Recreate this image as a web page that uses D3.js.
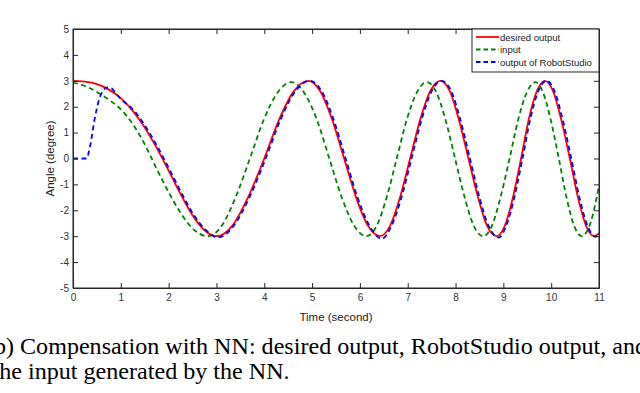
<!DOCTYPE html>
<html lang="en">
<head>
    <title>Compensation with NN</title>
    <meta charset="utf-8">
    <script src="https://d3js.org/d3.v7.min.js"></script>
    <style>
        body { margin: 0; background: #fff; }
        svg { display: block; }
        .tick text { font-family: 'Liberation Sans', Arial, sans-serif; font-size: 10px; fill: #333; }
    </style>
</head>
<body>
<div id="chart"></div>
<script>
    // values
    var timeDesired = [0, 0.25, 0.5, 0.75, 1.0, 1.25, 1.5, 1.75, 2.0, 2.25, 2.5, 2.75, 3.0,
        3.33, 3.66, 4.0, 4.31, 4.62, 4.92,
        5.17, 5.42, 5.67, 5.92, 6.17, 6.42,
        6.63, 6.84, 7.05, 7.26, 7.47, 7.68,
        7.88, 8.07, 8.27, 8.47, 8.66, 8.86,
        9.03, 9.2, 9.37, 9.53, 9.7, 9.87,
        10.04, 10.21, 10.39, 10.56, 10.73, 10.9,
        11.0];
    var desired = [3, 2.97, 2.87, 2.66, 2.33, 1.84, 1.2, 0.41, -0.47, -1.37, -2.19, -2.77, -3,
        -2.6, -1.5, 0, 1.5, 2.6, 3,
        2.6, 1.5, 0, -1.5, -2.6, -3,
        -2.6, -1.5, 0, 1.5, 2.6, 3,
        2.6, 1.5, 0, -1.5, -2.6, -3,
        -2.6, -1.5, 0, 1.5, 2.6, 3,
        2.6, 1.5, 0, -1.5, -2.6, -3,
        -2.88];

    var timeInput = [0, 0.25, 0.5, 0.75, 1.0, 1.25, 1.5, 1.75, 2.0, 2.25, 2.5, 2.82,
        3.11, 3.4, 3.7, 3.99, 4.28, 4.57,
        4.83, 5.1, 5.36, 5.62, 5.88, 6.14,
        6.35, 6.56, 6.77, 6.98, 7.19, 7.4,
        7.6, 7.79, 7.99, 8.19, 8.38, 8.58,
        8.76, 8.94, 9.13, 9.31, 9.49, 9.67,
        9.83, 9.99, 10.16, 10.32, 10.48, 10.64,
        10.82, 11.0];
    var input = [2.93, 2.8, 2.57, 2.27, 1.9, 1.33, 0.55, -0.4, -1.3, -2.1, -2.7, -3,
        -2.6, -1.5, 0, 1.5, 2.55, 2.95,
        2.55, 1.5, 0, -1.5, -2.6, -3,
        -2.6, -1.5, 0, 1.5, 2.55, 2.95,
        2.55, 1.5, 0, -1.5, -2.6, -3,
        -2.6, -1.5, 0, 1.5, 2.55, 2.95,
        2.55, 1.5, 0, -1.5, -2.6, -3,
        -2.5, -1.05];

    var timeOutput = [0, 0.28, 0.36, 0.45, 0.55, 0.63, 0.72, 0.8, 0.9, 1.0,
        1.28, 1.53, 1.78, 2.03, 2.28, 2.53, 2.78, 3.03,
        3.36, 3.69, 4.03, 4.34, 4.65, 4.95,
        5.2, 5.45, 5.7, 5.95, 6.2, 6.46,
        6.66, 6.87, 7.08, 7.29, 7.5, 7.71,
        7.91, 8.1, 8.3, 8.5, 8.69, 8.9,
        9.06, 9.23, 9.4, 9.56, 9.73, 9.9,
        10.07, 10.24, 10.42, 10.59, 10.76, 10.93,
        11.0];
    var output = [0, 0, 0.5, 1.5, 2.3, 2.62, 2.75, 2.72, 2.5, 2.3,
        1.84, 1.2, 0.41, -0.47, -1.37, -2.19, -2.77, -3.05,
        -2.6, -1.5, 0, 1.5, 2.6, 3,
        2.6, 1.5, 0, -1.5, -2.6, -3.1,
        -2.6, -1.5, 0, 1.5, 2.6, 3,
        2.6, 1.5, 0, -1.5, -2.6, -3.05,
        -2.6, -1.5, 0, 1.5, 2.6, 3,
        2.6, 1.5, 0, -1.5, -2.6, -3.02,
        -2.95];

    var xTicks = [0, 1, 2, 3, 4, 5, 6, 7, 8, 9, 10, 11];
    var yTicks = [-5, -4, -3, -2, -1, 0, 1, 2, 3, 4, 5];
    var legendLabels = ["desired output", "input", "output of RobotStudio"];

    var W = 640, H = 393;
    var pLeft = 73, pRight = 599, pTop = 29, pBottom = 288;
    var axisColor = "#262626";

    var svg = d3.select("#chart").append("svg")
        .attr("width", W).attr("height", H);

    var x = d3.scaleLinear().domain([0, 11]).range([pLeft, pRight]);
    var y = d3.scaleLinear().domain([-5, 5]).range([pBottom, pTop]);

    var series = [
        {name: legendLabels[0], t: timeDesired, v: desired, color: "#ff0000", dash: null},
        {name: legendLabels[1], t: timeInput, v: input, color: "#008000", dash: "5,3.5"},
        {name: legendLabels[2], t: timeOutput, v: output, color: "#0000ff", dash: "5,3.5"}
    ];

    var line = d3.line()
        .x(function(d) { return x(d[0]); })
        .y(function(d) { return y(d[1]); })
        .curve(d3.curveMonotoneX);

    var plot = svg.append("g");
    plot.append("clipPath").attr("id", "clip")
        .append("rect")
        .attr("x", pLeft).attr("y", pTop)
        .attr("width", pRight - pLeft).attr("height", pBottom - pTop);

    series.forEach(function(s) {
        plot.append("path")
            .datum(d3.zip(s.t, s.v))
            .attr("clip-path", "url(#clip)")
            .attr("fill", "none")
            .attr("stroke", s.color)
            .attr("stroke-width", 1.8)
            .attr("stroke-dasharray", s.dash)
            .attr("d", line);
    });

    // axes, ticks point inwards on all four sides
    var gx = svg.append("g").attr("transform", "translate(0," + pBottom + ")")
        .call(d3.axisBottom(x).tickValues(xTicks).tickSizeInner(-5).tickSizeOuter(0).tickPadding(6));
    var gxTop = svg.append("g").attr("transform", "translate(0," + pTop + ")")
        .call(d3.axisTop(x).tickValues(xTicks).tickSizeInner(-5).tickSizeOuter(0).tickFormat(""));
    var gy = svg.append("g").attr("transform", "translate(" + pLeft + ",0)")
        .call(d3.axisLeft(y).tickValues(yTicks).tickSizeInner(-5).tickSizeOuter(0).tickPadding(4));
    var gyRight = svg.append("g").attr("transform", "translate(" + pRight + ",0)")
        .call(d3.axisRight(y).tickValues(yTicks).tickSizeInner(-5).tickSizeOuter(0).tickFormat(""));

    [gx, gxTop, gy, gyRight].forEach(function(g) {
        g.selectAll("path").attr("stroke", axisColor);
        g.selectAll("line").attr("stroke", axisColor);
    });
    gy.selectAll(".tick text").text(function(d) { return d; });

    svg.append("rect")
        .attr("x", pLeft).attr("y", pTop)
        .attr("width", pRight - pLeft).attr("height", pBottom - pTop)
        .attr("fill", "none").attr("stroke", axisColor).attr("stroke-width", 1);

    // axis titles
    svg.append("text")
        .attr("x", (pLeft + pRight) / 2).attr("y", 321)
        .attr("text-anchor", "middle")
        .style("font-family", "'Liberation Sans', Arial, sans-serif")
        .style("font-size", "11.5px").style("fill", "#222")
        .text("Time (second)");
    svg.append("text")
        .attr("transform", "translate(54," + ((pTop + pBottom) / 2) + ") rotate(-90)")
        .attr("text-anchor", "middle")
        .style("font-family", "'Liberation Sans', Arial, sans-serif")
        .style("font-size", "11.5px").style("fill", "#222")
        .text("Angle (degree)");

    // legend
    var lg = svg.append("g");
    lg.append("rect")
        .attr("x", 472).attr("y", pTop)
        .attr("width", pRight - 472).attr("height", 43)
        .attr("fill", "#fff").attr("stroke", axisColor).attr("stroke-width", 1);
    series.forEach(function(s, i) {
        var ly = 37 + i * 12.5;
        lg.append("line")
            .attr("x1", 476).attr("x2", 499)
            .attr("y1", ly).attr("y2", ly)
            .attr("stroke", s.color).attr("stroke-width", 1.8)
            .attr("stroke-dasharray", s.dash ? "4.5,3" : null);
        lg.append("text")
            .attr("x", 500).attr("y", ly + 3.5)
            .style("font-family", "'Liberation Sans', Arial, sans-serif")
            .style("font-size", "9.5px").style("fill", "#222")
            .text(s.name);
    });

    // caption, cut at the left edge like the page it came from
    function caption(txt, lead, startX, baseline) {
        var t = svg.append("text")
            .attr("y", baseline)
            .style("font-family", "'Liberation Serif', 'Times New Roman', serif")
            .style("font-size", "24.1px").style("fill", "#000")
            .text(lead);
        var w = t.node().getComputedTextLength();
        t.text(lead + txt).attr("x", startX - w);
    }
    caption("Compensation with NN: desired output, RobotStudio output, and", "(b) ", 14, 354);
    caption("input generated by the NN.", "the ", 22, 379);
</script>
</body>
</html>
